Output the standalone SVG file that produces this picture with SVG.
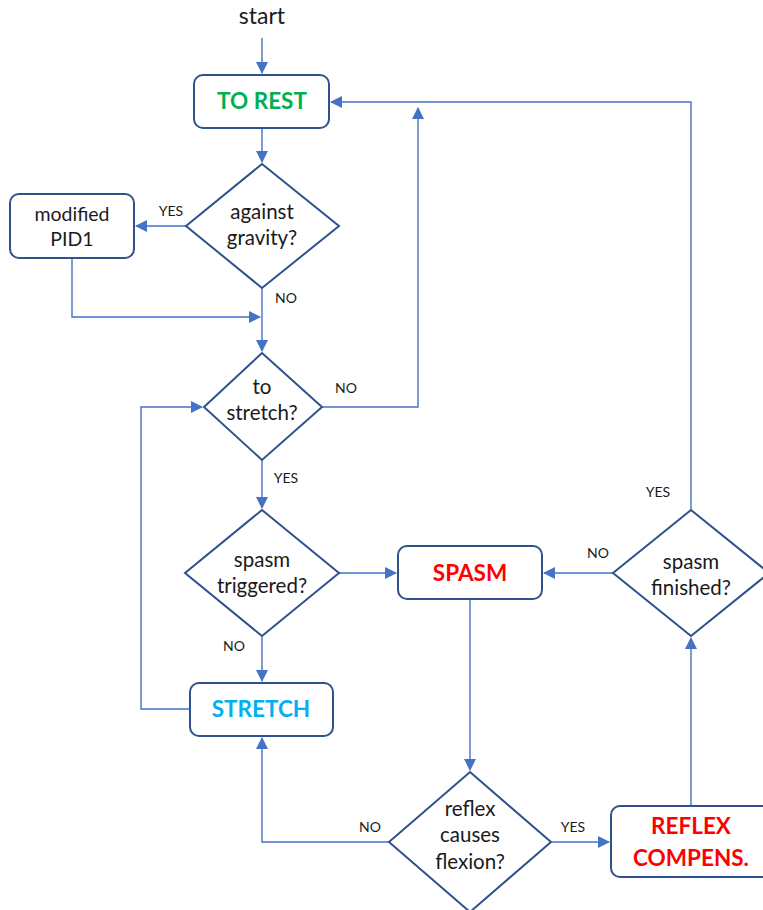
<svg xmlns="http://www.w3.org/2000/svg" width="763" height="910" viewBox="0 0 763 910">
  <defs>
    <marker id="arr" markerWidth="12" markerHeight="12" refX="11" refY="6" orient="auto" markerUnits="userSpaceOnUse">
      <path d="M0,0 L12,6 L0,12 Z" fill="#4472C4"/>
    </marker>
  </defs>
  <style>
    .node { fill: #FFFFFF; stroke: #2F528F; stroke-width: 2; }
    .conn { fill: none; stroke: #4472C4; stroke-width: 1.4; }
    .t { font-family: "Lato", "Open Sans", "Liberation Sans", sans-serif; fill: #1A1A1A; text-anchor: middle; }
    .q { font-size: 20.5px; }
    .lbl { font-size: 14px; }
    .b { font-weight: bold; font-size: 22.5px; }
  </style>
  <rect width="763" height="910" fill="#FFFFFF"/>

  <!-- connectors -->
  <g id="connectors">
    <path class="conn" d="M262,38 V73" marker-end="url(#arr)"/>
    <path class="conn" d="M262,128 V162" marker-end="url(#arr)"/>
    <path class="conn" d="M186,226 H136" marker-end="url(#arr)"/>
    <path class="conn" d="M72,258 V317 H260" marker-end="url(#arr)"/>
    <path class="conn" d="M262,288 V351" marker-end="url(#arr)"/>
    <path class="conn" d="M322,407 H418 V108" marker-end="url(#arr)"/>
    <path class="conn" d="M691,510 V102 H331" marker-end="url(#arr)"/>
    <path class="conn" d="M262,460 V508" marker-end="url(#arr)"/>
    <path class="conn" d="M339,573 H396" marker-end="url(#arr)"/>
    <path class="conn" d="M613,573 H544" marker-end="url(#arr)"/>
    <path class="conn" d="M262,636 V681" marker-end="url(#arr)"/>
    <path class="conn" d="M190,709 H141 V407 H202" marker-end="url(#arr)"/>
    <path class="conn" d="M470,599 V770" marker-end="url(#arr)"/>
    <path class="conn" d="M389,842 H262 V738" marker-end="url(#arr)"/>
    <path class="conn" d="M551,842 H609" marker-end="url(#arr)"/>
    <path class="conn" d="M691,806 V638" marker-end="url(#arr)"/>
    <text class="t lbl" x="171" y="216">YES</text>
    <text class="t lbl" x="286" y="303">NO</text>
    <text class="t lbl" x="346" y="393">NO</text>
    <text class="t lbl" x="286" y="483">YES</text>
    <text class="t lbl" x="234" y="651">NO</text>
    <text class="t lbl" x="598" y="558">NO</text>
    <text class="t lbl" x="658" y="497">YES</text>
    <text class="t lbl" x="370" y="832">NO</text>
    <text class="t lbl" x="573" y="832">YES</text>
  </g>

  <g id="start">
    <text class="t" x="262" y="24" font-size="23">start</text>
  </g>

  <g id="to-rest">
    <rect class="node" x="194" y="75" width="135" height="53" rx="9"/>
    <text class="t b" x="262" y="109" style="fill:#00B050">TO REST</text>
  </g>

  <g id="against-gravity">
    <polygon class="node" points="262,164 339,226 262,288 186,226"/>
    <text class="t q" x="262" y="219">against</text>
    <text class="t q" x="262" y="245">gravity?</text>
  </g>

  <g id="modified-pid1">
    <rect class="node" x="10" y="194" width="124" height="64" rx="9"/>
    <text class="t q" x="72" y="221" style="font-size:19.5px">modified</text>
    <text class="t q" x="72" y="246" style="font-size:19.5px">PID1</text>
  </g>

  <g id="to-stretch">
    <polygon class="node" points="262,353 322,407 262,460 204,407"/>
    <text class="t q" x="262" y="394">to</text>
    <text class="t q" x="262" y="420">stretch?</text>
  </g>

  <g id="spasm-triggered">
    <polygon class="node" points="262,510 339,573 262,636 185,573"/>
    <text class="t q" x="262" y="567">spasm</text>
    <text class="t q" x="262" y="593">triggered?</text>
  </g>

  <g id="spasm">
    <rect class="node" x="398" y="546" width="144" height="53" rx="9"/>
    <text class="t b" x="470" y="581" style="fill:#FF0000">SPASM</text>
  </g>

  <g id="spasm-finished">
    <polygon class="node" points="691,510 769,573 691,636 613,573"/>
    <text class="t q" x="691" y="569">spasm</text>
    <text class="t q" x="691" y="595">finished?</text>
  </g>

  <g id="stretch">
    <rect class="node" x="190" y="683" width="143" height="53" rx="9"/>
    <text class="t b" x="261" y="717" style="fill:#00B0F0">STRETCH</text>
  </g>

  <g id="reflex-causes-flexion">
    <polygon class="node" points="470,772 551,842 470,912 389,842"/>
    <text class="t q" x="470" y="816">reflex</text>
    <text class="t q" x="470" y="842">causes</text>
    <text class="t q" x="470" y="869">flexion?</text>
  </g>

  <g id="reflex-compens">
    <rect class="node" x="611" y="806" width="160" height="71" rx="9"/>
    <text class="t b" x="691" y="834" style="fill:#FF0000">REFLEX</text>
    <text class="t b" x="691" y="866" style="fill:#FF0000">COMPENS.</text>
  </g>
</svg>
